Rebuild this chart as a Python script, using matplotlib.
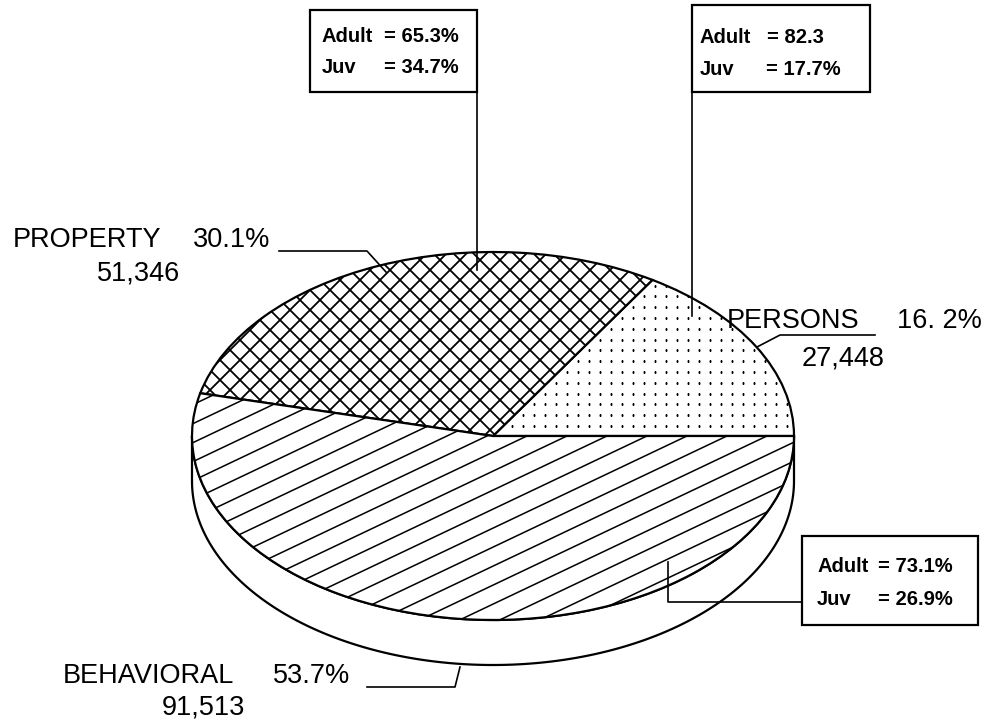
import matplotlib.pyplot as plt
import numpy as np
from matplotlib.patches import Polygon, Rectangle

# chart data
categories = ['PERSONS', 'PROPERTY', 'BEHAVIORAL']
counts = [27448, 51346, 91513]
pct_labels = ['16. 2%', '30.1%', '53.7%']
count_labels = ['27,448', '51,346', '91,513']
adult_labels = ['82.3', '65.3%', '73.1%']
juv_labels = ['17.7%', '34.7%', '26.9%']

plt.rcParams['font.family'] = ['Liberation Sans', 'DejaVu Sans']

W, H = 994, 725
fig = plt.figure(figsize=(W / 100, H / 100), dpi=100)

# pie geometry (pixels)
cx, cy, rx, ry, depth = 493, 436, 301, 184, 45

ax_pie = fig.add_axes([(cx - rx) / W, (H - cy - ry) / H, 2 * rx / W, 2 * ry / H])
wedges, _ = ax_pie.pie(counts, startangle=0, counterclock=True, radius=1,
                       colors=['white'] * 3,
                       wedgeprops=dict(edgecolor='black', linewidth=1.6))
ax_pie.set_aspect('auto')
ax_pie.set_xlim(-1, 1)
ax_pie.set_ylim(-1, 1)
ax_pie.set_axis_off()
ax_pie.set_zorder(1)

# side of the disc
t = np.linspace(np.pi, 2 * np.pi, 300)
top = np.c_[np.cos(t), np.sin(t)]
bot = np.c_[np.cos(t[::-1]), np.sin(t[::-1]) - depth / ry]
ax_pie.add_patch(Polygon(np.vstack([top, bot]), closed=True, facecolor='white',
                         edgecolor='black', lw=1.6, clip_on=False, zorder=0))

# overlay axes in pixel coords
ax = fig.add_axes([0, 0, 1, 1])
ax.set_xlim(0, W)
ax.set_ylim(H, 0)
ax.set_axis_off()
ax.set_zorder(2)

# hatching: behavioral diagonal lines
xx = np.array([150, 850])
for c in np.arange(667.3 - 19 * 40, 667.3 + 19 * 40, 19):
    ax.plot(xx, c - 0.475 * xx, color='black', lw=1.1, clip_path=wedges[2])

# property crosshatch
for c in np.arange(-420, 300, 20):
    ax.plot(xx, xx + c, color='black', lw=1.3, clip_path=wedges[1])
for d in np.arange(400, 1120, 20):
    ax.plot(xx, d - xx, color='black', lw=1.3, clip_path=wedges[1])

# persons dots
gx, gy = np.meshgrid(np.arange(490, 800, 11), np.arange(426, 240, -10.8))
ax.plot(gx.ravel(), gy.ravel(), 's', color='black', ms=1.4, mew=0,
        clip_path=wedges[0])

lab_fs = 19.5
box_fs = 14.5

# PROPERTY label
ax.text(13, 247, categories[1], fontsize=lab_fs, va='baseline')
ax.text(193, 247, pct_labels[1], fontsize=lab_fs, va='baseline')
ax.text(97, 280, count_labels[1], fontsize=lab_fs, va='baseline')
ax.plot([279, 367, 386], [251, 251, 272], color='black', lw=1.2)

# PERSONS label
ax.text(727, 328, categories[0], fontsize=lab_fs, va='baseline')
ax.text(897, 328, pct_labels[0], fontsize=lab_fs, va='baseline')
ax.text(802, 365, count_labels[0], fontsize=lab_fs, va='baseline')
ax.plot([875, 780, 757], [335, 335, 347], color='black', lw=1.2)

# BEHAVIORAL label
ax.text(63, 683, categories[2], fontsize=lab_fs, va='baseline')
ax.text(273, 683, pct_labels[2], fontsize=lab_fs, va='baseline')
ax.text(162, 715, count_labels[2], fontsize=lab_fs, va='baseline')
ax.plot([367, 455, 460], [687, 687, 667], color='black', lw=1.2)


def box(x0, y0, x1, y1, tx, eq_x, b1, b2, i, align='right'):
    ax.add_patch(Rectangle((x0, y0), x1 - x0, y1 - y0, facecolor='white',
                           edgecolor='black', lw=1.6, zorder=3))
    kw = dict(fontsize=box_fs, fontweight='bold', va='baseline', zorder=4)
    ax.text(tx, b1, 'Adult', **kw)
    ax.text(tx, b2, 'Juv', **kw)
    ax.text(eq_x[0], b1, '= ' + adult_labels[i], ha=align, **kw)
    ax.text(eq_x[1], b2, '= ' + juv_labels[i], ha=align, **kw)


# property box
box(310, 10, 477, 92, 322, (459, 459), 42, 73, 1)
ax.plot([477, 477], [92, 270], color='black', lw=1.2)

# persons box
box(692, 5, 870, 92, 700, (824, 841), 43, 75, 0)
ax.plot([692, 692], [92, 316], color='black', lw=1.2)

# behavioral box
box(802, 536, 978, 625, 817, (878, 878), 572, 605, 2, align='left')
ax.plot([802, 668, 668], [602, 602, 562], color='black', lw=1.2)

fig.savefig('out.png', dpi=100, facecolor='white')
